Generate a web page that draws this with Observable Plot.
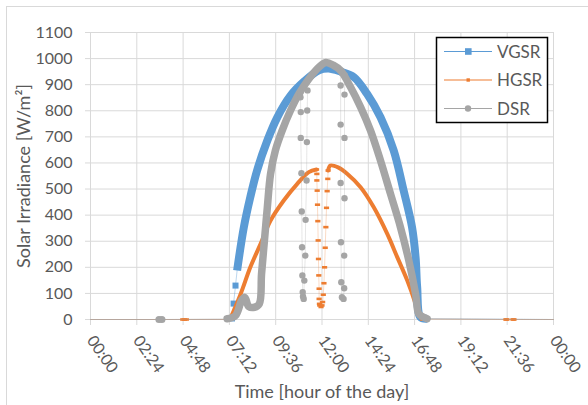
<!DOCTYPE html>
<html>
<head>
<meta charset="utf-8">
<script src="https://cdn.jsdelivr.net/npm/d3@7"></script>
<script src="https://cdn.jsdelivr.net/npm/@observablehq/plot@0.6"></script>
<style>
  html, body { margin: 0; padding: 0; background: #fff; }
  #chart { width: 588px; height: 405px; overflow: hidden; }
</style>
</head>
<body>
<div id="chart"></div>
<script>
// ---------- data (time "HH:MM", irradiance W/m²) ----------
const seriesNames = ["VGSR", "HGSR", "DSR"];
const seriesColors = ["#5B9BD5", "#ED7D31", "#A5A5A5"];
const yTicks = [0, 100, 200, 300, 400, 500, 600, 700, 800, 900, 1000, 1100];
const xTickLabels = ["00:00","02:24","04:48","07:12","09:36","12:00","14:24","16:48","19:12","21:36","00:00"];

// VGSR
const vgsrNight = [["00:00",0],["07:05",0],["07:20",4],["07:25",61],["07:31",130],["07:36",188]];
const vgsrDawnDots = [["07:20",4],["07:25",61],["07:31",130]];
const vgsrDay = [["07:36",188],["07:57",354],["08:17",469],["08:38",571],["09:10",686],["09:41",775],["10:22",858],["11:04",912],["11:50",955],["12:20",962],["12:58",950],["13:39",929],["14:20",865],["15:02",775],["15:43",648],["16:14",494],["16:40",354],["16:51",239],["16:56",124],["17:06",9],["17:27",3]];
const vgsrEvening = [["17:27",3],["24:00",0]];

// HGSR
const hgsrNight = [["00:00",0],["04:47",0],["04:52",0],["04:58",0],["07:10",0]];
const hgsrNightDots = [["04:47",0],["04:52",0],["04:58",0],["21:32",0],["21:35",0],["21:54",0],["21:57",0]];
const hgsrAM = [["07:10",0],["07:16",9],["07:47",98],["08:17",200],["08:49",290],["09:20",379],["10:01",456],["10:43",520],["11:19",565],["11:43",575]];
const hgsrDip = [["11:43",575],["11:44",558],["11:44",533],["11:45",494],["11:46",440],["11:47",377],["11:48",303],["11:49",232],["11:50",169],["11:51",118],["11:51",79],["11:52",60],["11:53",54],["11:57",48],["12:00",54],["12:02",67],["12:04",95],["12:06",139],["12:08",200],["12:10",275],["12:12",354],["12:14",428],["12:16",492],["12:18",539],["12:19",571]];
const hgsrPM = [["12:19",571],["12:26",590],["12:50",583],["13:19",558],["14:00",507],["14:41",430],["15:23",328],["15:54",239],["16:25",150],["16:51",60],["17:00",22],["17:10",2]];
const hgsrEvening = [["17:10",2],["21:32",0],["21:35",0],["21:54",0],["21:57",0],["24:00",0]];

// DSR
const dsrNight = [["00:00",0],["03:33",0],["03:42",0],["07:05",3]];
const dsrNightDots = [["03:33",0],["03:42",0]];
const dsrDay = [["07:05",3],["07:31",15],["07:50",73],["08:00",85],["08:12",50],["08:30",47],["08:45",60],["08:52",175],["09:01",303],["09:10",430],["09:20",558],["09:35",648],["09:56",724],["10:22",801],["10:48",865],["11:19",922],["11:50",967],["12:12",985],["12:35",975],["12:58",954],["13:29",890],["14:00",814],["14:31",724],["15:02",609],["15:33",482],["16:04",354],["16:30",226],["16:51",98],["17:01",22],["17:16",9],["17:27",3]];
const dsrDipMorning = [["10:53",870],["10:53",852],["10:54",795],["10:54",696],["10:56",561],["10:57",414],["10:58",277],["10:59",169],["11:00",105],["11:01",88],["11:03",79],["11:05",149],["11:08",245],["11:09",382],["11:12",533],["11:13",680],["11:14",801],["11:15",878]];
const dsrDipAfternoon = [["12:57",954],["12:58",897],["12:58",747],["12:58",523],["12:59",296],["13:00",143],["13:02",85],["13:07",79],["13:09",120],["13:09",245],["13:10",465],["13:10",696],["13:10",862],["13:11",935]];
const dsrEvening = [["17:27",3],["24:00",0]];

// ---------- helpers ----------
const toH = s => { const [h, m] = s.split(":").map(Number); return h + m / 60; };
const X = d => toH(d[0]);
const Y = d => d[1];
const xTicks = xTickLabels.map((_, i) => i * 2.4);
const fmtX = h => xTickLabels[Math.round(h / 2.4)];
const [cV, cH, cD] = seriesColors;
const FONT = "Lato, 'Open Sans', sans-serif";

const dashSymbol = { draw(ctx) { ctx.rect(-2.6, -1.3, 5.2, 2.6); } };
const thin = (data, color, op) => Plot.line(data, {x: X, y: Y, stroke: color, strokeWidth: 0.8, strokeOpacity: op});

const chart = Plot.plot({
  width: 588,
  height: 405,
  marginLeft: 90,
  marginRight: 35,
  marginTop: 32,
  marginBottom: 86,
  x: {domain: [0, 24]},
  y: {domain: [0, 1100]},
  style: {fontFamily: FONT, fontSize: "16px", color: "#595959", background: "#fff", overflow: "visible"},
  marks: [
    Plot.gridX(xTicks, {stroke: "#d9d9d9", strokeOpacity: 1, strokeWidth: 1}),
    Plot.gridY(yTicks, {stroke: "#d9d9d9", strokeOpacity: 1, strokeWidth: 1}),
    Plot.axisX(xTicks, {tickSize: 6, stroke: "#d9d9d9", fill: "#595959", tickRotate: 55, tickFormat: fmtX, label: null, tickPadding: 12, fontSize: 16}),
    Plot.axisY(yTicks, {tickSize: 5, tickPadding: 13, stroke: "#d9d9d9", fill: "#595959", label: null, fontSize: 16, tickFormat: d => String(d)}),
    // VGSR
    thin(vgsrNight, cV, 0.5),
    thin(vgsrEvening, cV, 0.5),
    Plot.line(vgsrDay, {x: X, y: Y, stroke: cV, strokeWidth: 8, curve: "catmull-rom", strokeLinecap: "butt", strokeLinejoin: "round"}),
    Plot.dot(vgsrDawnDots, {x: X, y: Y, symbol: "square", r: 3.4, fill: cV, stroke: "none"}),
    // HGSR
    thin(hgsrNight, cH, 0.45),
    thin(hgsrEvening, cH, 0.45),
    Plot.line(hgsrAM, {x: X, y: Y, stroke: cH, strokeWidth: 4, curve: "catmull-rom"}),
    Plot.line(hgsrPM, {x: X, y: Y, stroke: cH, strokeWidth: 4, curve: "catmull-rom"}),
    thin(hgsrDip, cH, 0.35),
    Plot.dot(hgsrDip, {x: X, y: Y, symbol: dashSymbol, fill: cH, stroke: "none"}),
    Plot.dot(hgsrNightDots, {x: X, y: Y, symbol: dashSymbol, fill: cH, stroke: "none"}),
    // DSR
    thin(dsrNight, cD, 0.4),
    thin(dsrEvening, cD, 0.4),
    Plot.line(dsrDay, {x: X, y: Y, stroke: cD, strokeWidth: 7.5, curve: "catmull-rom", strokeLinecap: "round", strokeLinejoin: "round"}),
    thin(dsrDipMorning, cD, 0.35),
    thin(dsrDipAfternoon, cD, 0.35),
    Plot.dot(dsrDipMorning, {x: X, y: Y, r: 3.2, fill: cD, stroke: "none"}),
    Plot.dot(dsrDipAfternoon, {x: X, y: Y, r: 3.2, fill: cD, stroke: "none"}),
    Plot.dot(dsrNightDots, {x: X, y: Y, r: 3.6, fill: cD, stroke: "none"}),
    // axis titles
    Plot.text(["Time [hour of the day]"], {frameAnchor: "bottom", dy: 73, fill: "#595959", fontSize: 18, lineAnchor: "middle", textAnchor: "middle"}),
    Plot.text(["Solar Irradiance [W/m²]"], {frameAnchor: "left", dx: -66, rotate: -90, fill: "#595959", fontSize: 18, lineAnchor: "middle", textAnchor: "middle"})
  ]
});

document.getElementById("chart").appendChild(chart);

// chart border + legend
const svg = d3.select(chart);
svg.append("rect").attr("x", 6.5).attr("y", 6.5).attr("width", 600).attr("height", 420)
  .attr("fill", "none").attr("stroke", "#d9d9d9").attr("stroke-width", 1);

const lg = svg.append("g").attr("text-anchor", "start");
lg.append("rect").attr("x", 436.5).attr("y", 37.5).attr("width", 111).attr("height", 85)
  .attr("fill", "#fff").attr("stroke", "#000").attr("stroke-width", 1.5);
const rows = [51.5, 80, 108.5];
seriesNames.forEach((name, i) => {
  const y = rows[i], c = seriesColors[i];
  lg.append("line").attr("x1", 444).attr("x2", 492).attr("y1", y).attr("y2", y).attr("stroke", c).attr("stroke-width", 1.2);
  if (i === 0) lg.append("rect").attr("x", 465).attr("y", y - 3.3).attr("width", 6.6).attr("height", 6.6).attr("fill", c);
  if (i === 1) lg.append("rect").attr("x", 466.5).attr("y", y - 1.7).attr("width", 3.4).attr("height", 3.4).attr("fill", c);
  if (i === 2) lg.append("circle").attr("cx", 468).attr("cy", y).attr("r", 3.2).attr("fill", c);
  lg.append("text").attr("x", 497).attr("y", y).attr("dy", "0.36em").attr("fill", "#595959")
    .attr("text-anchor", "start").attr("font-family", FONT).attr("font-size", 17).text(name);
});
</script>
</body>
</html>
